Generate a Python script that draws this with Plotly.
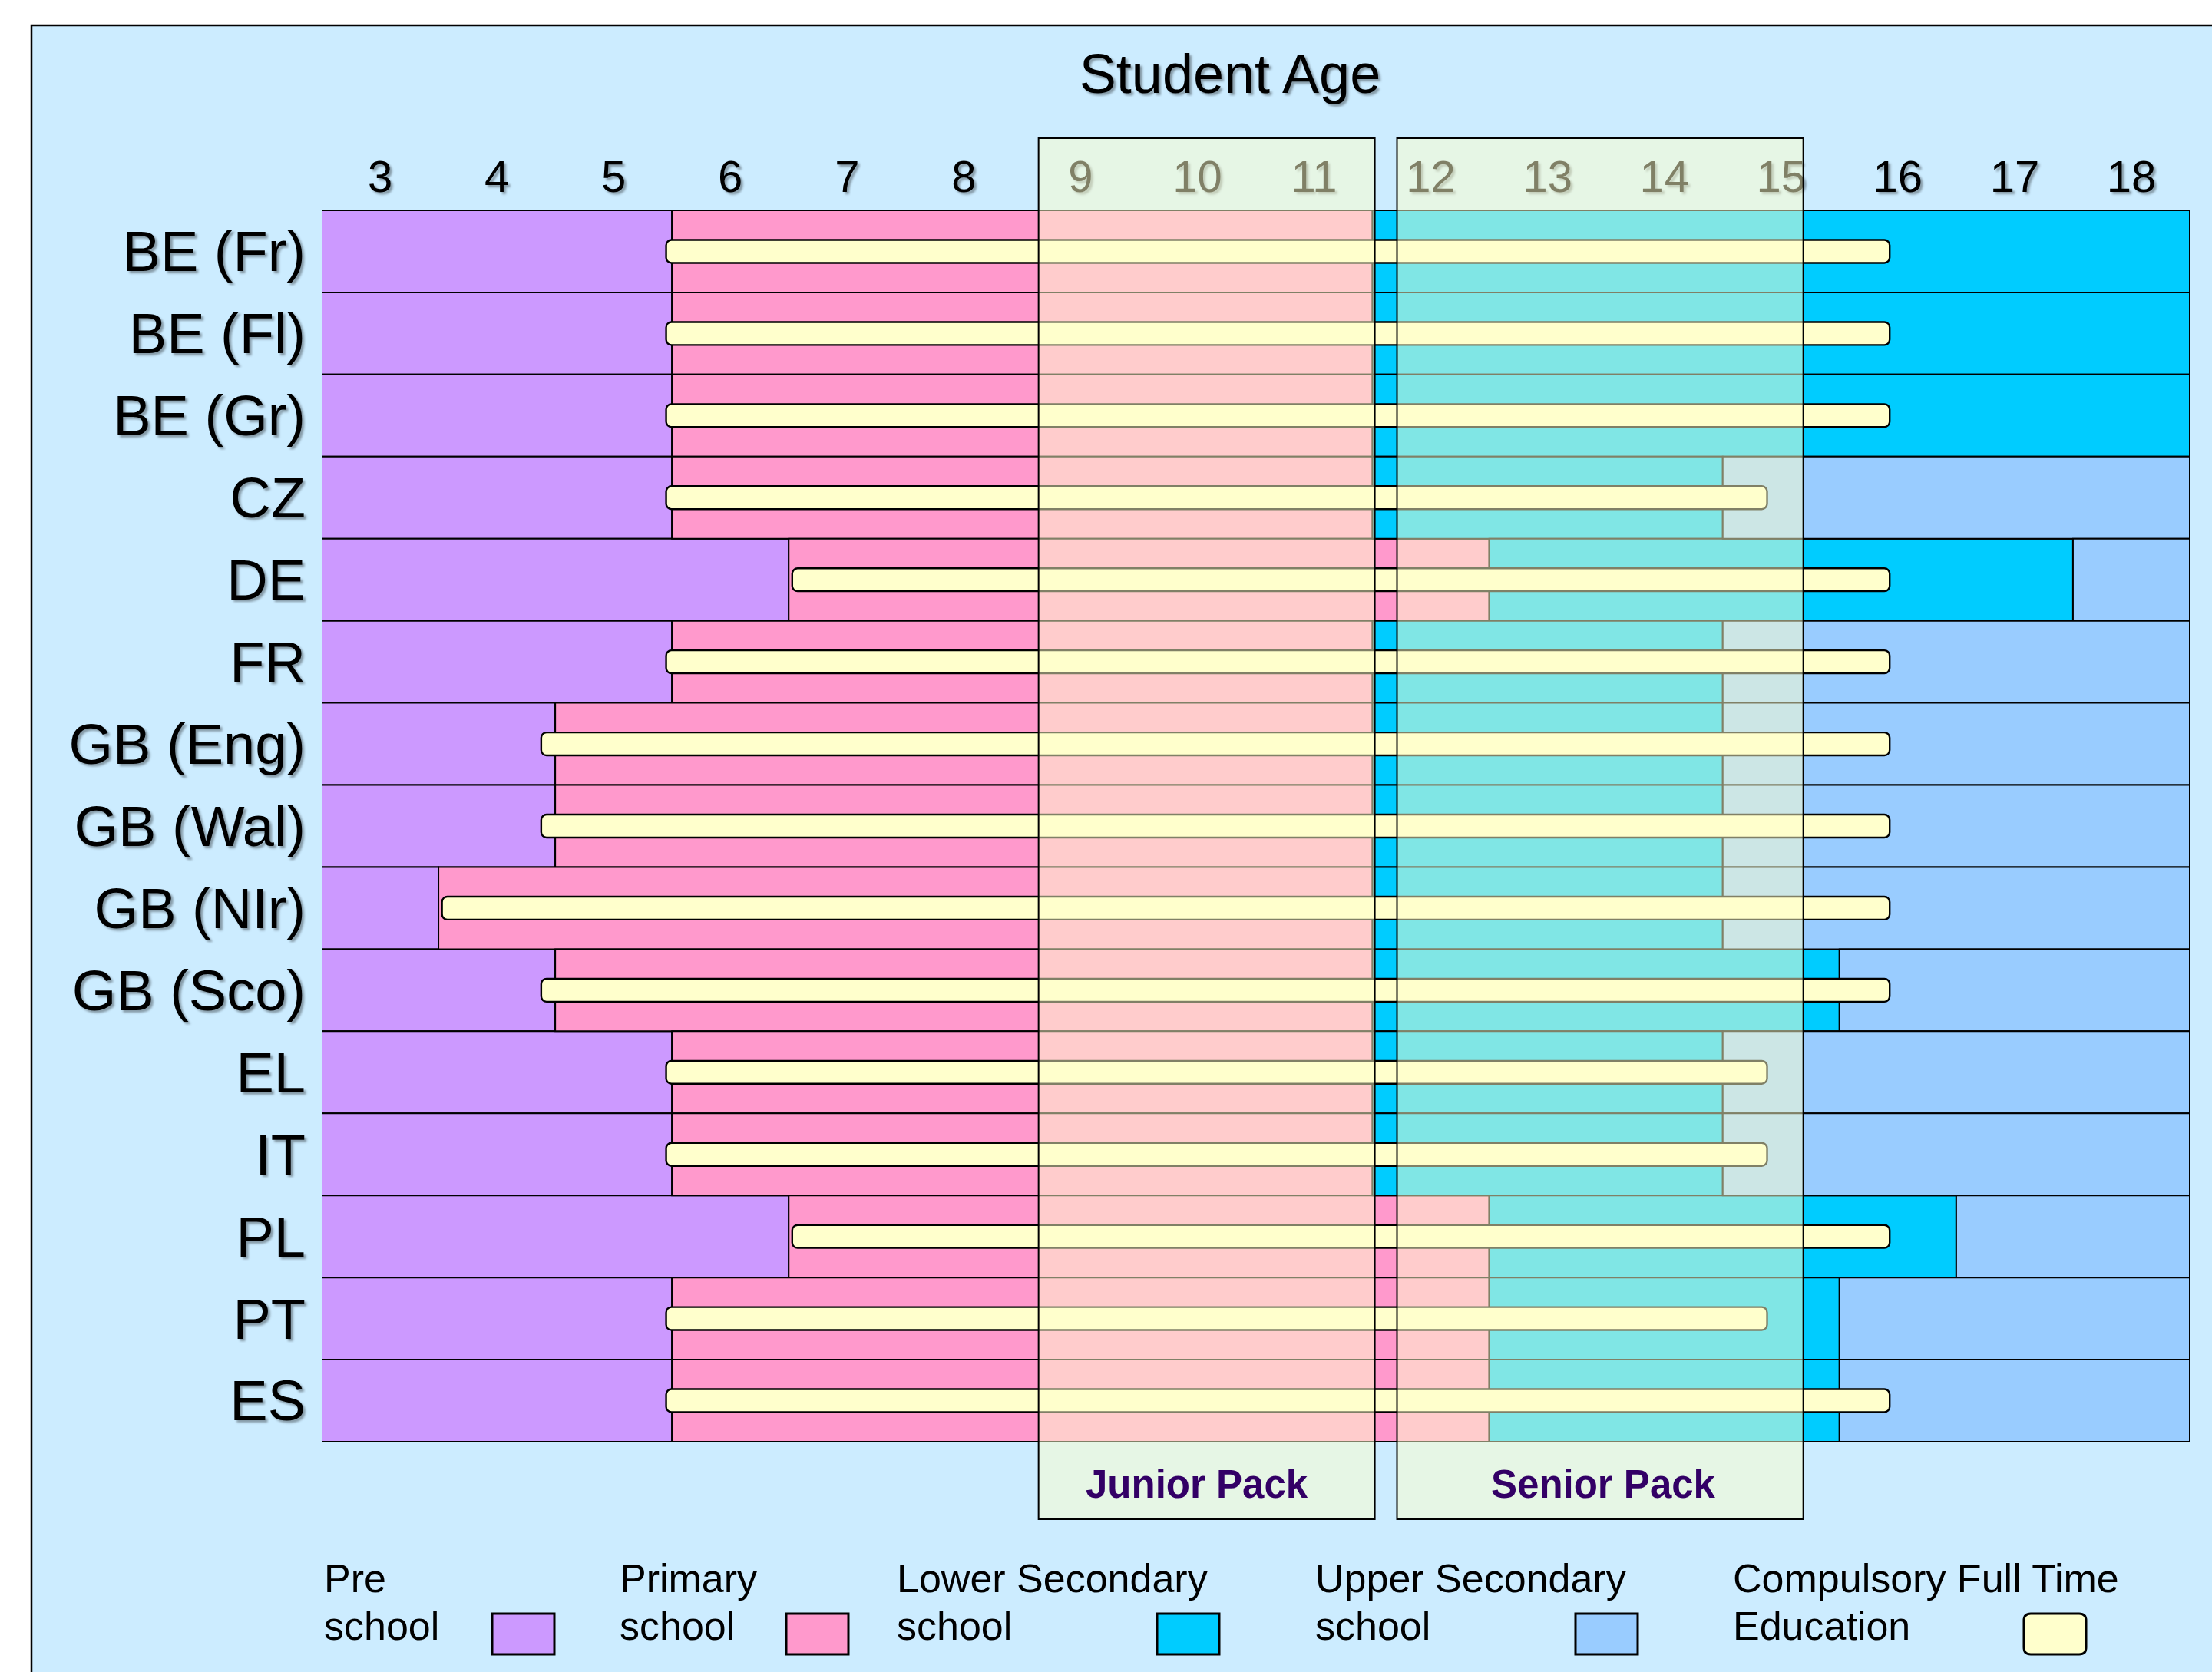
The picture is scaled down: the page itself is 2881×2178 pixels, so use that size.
import plotly.graph_objects as go

# ---------------- data ----------------
countries = ["BE (Fr)", "BE (Fl)", "BE (Gr)", "CZ", "DE", "FR", "GB (Eng)", "GB (Wal)",
             "GB (NIr)", "GB (Sco)", "EL", "IT", "PL", "PT", "ES"]
ages = list(range(3, 19))

# age at which each stage begins (None = stage absent)
primary_start = [6, 6, 6, 6, 7, 6, 5, 5, 4, 5, 6, 6, 7, 6, 6]
lower_sec_start = [12, 12, 12, 12, 13, 12, 12, 12, 12, 12, 12, 12, 13, 13, 13]
upper_sec_start = [None, None, None, 15, 18, 15, 15, 15, 15, 16, 15, 15, 17, 16, 16]

# compulsory full-time education band (on the age scale)
compulsory_from = [5.45, 5.45, 5.45, 5.45, 6.53, 5.45, 4.38, 4.38, 3.53, 4.38,
                   5.45, 5.45, 6.53, 5.45, 5.45]
compulsory_to = [15.93, 15.93, 15.93, 14.88, 15.93, 15.93, 15.93, 15.93, 15.93, 15.93,
                 14.88, 14.88, 15.93, 14.88, 15.93]

junior_pack = (8.64, 11.52)
senior_pack = (11.71, 15.19)
pack_labels = ["Junior Pack", "Senior Pack"]
pack_label_age = [10.0, 13.48]

legend_labels = [("Pre", "school"), ("Primary", "school"), ("Lower Secondary", "school"),
                 ("Upper Secondary", "school"), ("Compulsory Full Time", "Education")]

# ---------------- styles ----------------
FONT = "Liberation Sans, Arial, Helvetica, sans-serif"
C_BG = "#CCECFF"
C_PRE = "#CC99FF"
C_PRI = "#FF99CC"
C_LOW = "#00CCFF"
C_UPP = "#99CCFF"
C_CFT = "#FFFFCC"
colors = [C_PRE, C_PRI, C_LOW, C_UPP, C_CFT]
SHADOW = "3px 3px 3px rgba(0,0,0,0.35)"

lo = ages[0] - 0.5
hi = ages[-1] + 0.5

pre_base = [lo] * len(countries)
pre_len = [p - 0.5 - lo for p in primary_start]
pri_base = [p - 0.5 for p in primary_start]
pri_len = [l - p for p, l in zip(primary_start, lower_sec_start)]
low_base = [l - 0.5 for l in lower_sec_start]
low_len = [((u - 0.5) if u is not None else hi) - (l - 0.5)
           for l, u in zip(lower_sec_start, upper_sec_start)]
upp_base = [(u - 0.5) if u is not None else None for u in upper_sec_start]
upp_len = [(hi - (u - 0.5)) if u is not None else None for u in upper_sec_start]
cft_base = compulsory_from
cft_len = [b - a for a, b in zip(compulsory_from, compulsory_to)]

fig = go.Figure()
for base, length, col in [(pre_base, pre_len, C_PRE), (pri_base, pri_len, C_PRI),
                          (low_base, low_len, C_LOW), (upp_base, upp_len, C_UPP)]:
    fig.add_trace(go.Bar(orientation="h", y=countries, x=length, base=base, width=1,
                         marker=dict(color=col, line=dict(color="black", width=2)),
                         hoverinfo="skip", showlegend=False))
fig.add_trace(go.Bar(orientation="h", y=countries, x=cft_len, base=cft_base, width=0.28,
                     marker=dict(color=C_CFT, line=dict(color="black", width=2.4),
                                 cornerradius=7),
                     hoverinfo="skip", showlegend=False))

# ---------------- geometry helpers (pixels -> paper) ----------------
W, H = 2881, 2178
L, R, T, B = 419, 29, 274, 300
PW, PH = W - L - R, H - T - B


def px(x):
    return (x - L) / PW


def py(y):
    return (H - B - y) / PH


shapes = []
# light-blue frame
shapes.append(dict(type="rect", xref="paper", yref="paper", x0=px(41), x1=px(3100),
                   y0=py(2400), y1=py(33), fillcolor=C_BG,
                   line=dict(color="black", width=2.5), layer="below"))
# pack overlays
for rng in (junior_pack, senior_pack):
    shapes.append(dict(type="rect", xref="x", yref="paper", x0=rng[0], x1=rng[1],
                       y0=py(1979), y1=py(180), fillcolor="rgba(255,255,204,0.5)",
                       line=dict(color="black", width=2), layer="above"))

annotations = []
for xa, lab in zip(pack_label_age, pack_labels):
    annotations.append(dict(x=xa, y=py(1933), xref="x", yref="paper",
                            text=f"<b>{lab}</b>", showarrow=False, xanchor="center",
                            yanchor="middle",
                            font=dict(family=FONT, size=51, color="#330066")))

# legend (two text lines on the left, swatch on the right)
leg_text_x = [420, 805, 1166, 1711, 2255]
leg_sw_x = [641, 1024, 1507, 2052, 2636]
line_mid = [2056, 2118]
sw_w, sw_top, sw_bot = 81, 2102, 2155
for i, (lines, col) in enumerate(zip(legend_labels, colors)):
    for txt, ym in zip(lines, line_mid):
        annotations.append(dict(x=px(leg_text_x[i]), y=py(ym), xref="paper", yref="paper",
                                text=txt, showarrow=False, xanchor="left",
                                yanchor="middle", align="left",
                                font=dict(family=FONT, size=52, color="black")))
    x0, x1 = px(leg_sw_x[i]), px(leg_sw_x[i] + sw_w)
    y0, y1 = py(sw_bot), py(sw_top)
    if i < 4:
        shapes.append(dict(type="rect", xref="paper", yref="paper", x0=x0, x1=x1,
                           y0=y0, y1=y1, fillcolor=col,
                           line=dict(color="black", width=3), layer="above"))
    else:
        rx, ry = 9 / PW, 9 / PH
        path = (f"M {x0+rx},{y0} L {x1-rx},{y0} Q {x1},{y0} {x1},{y0+ry} "
                f"L {x1},{y1-ry} Q {x1},{y1} {x1-rx},{y1} L {x0+rx},{y1} "
                f"Q {x0},{y1} {x0},{y1-ry} L {x0},{y0+ry} Q {x0},{y0} {x0+rx},{y0} Z")
        shapes.append(dict(type="path", xref="paper", yref="paper", path=path,
                           fillcolor=col, line=dict(color="black", width=3),
                           layer="above"))

fig.update_layout(
    width=W, height=H,
    margin=dict(l=L, r=R, t=T, b=B, pad=0),
    paper_bgcolor="white", plot_bgcolor="rgba(0,0,0,0)",
    barmode="overlay", showlegend=False,
    font=dict(family=FONT, color="black"),
    title=dict(text="Student Age", xref="paper", x=px(1602), xanchor="center",
               yref="container", y=1 - 96 / H, yanchor="middle",
               font=dict(family=FONT, size=72, color="black", shadow=SHADOW)),
    xaxis=dict(range=[lo, hi], side="top", tickmode="array", tickvals=ages,
               ticktext=[str(a) for a in ages], showgrid=False, zeroline=False,
               showline=False, ticks="", ticklabelstandoff=11,
               tickfont=dict(family=FONT, size=58, color="black", shadow=SHADOW),
               fixedrange=True),
    yaxis=dict(categoryorder="array", categoryarray=countries, range=[14.5, -0.5],
               showgrid=False, zeroline=False, showline=False, ticks="",
               ticklabelstandoff=20,
               tickfont=dict(family=FONT, size=74, color="black", shadow=SHADOW),
               fixedrange=True),
    shapes=shapes, annotations=annotations,
)

fig.write_html("out.html", config={"displayModeBar": False},
               post_script="document.body.style.margin='0';"
                           "document.body.style.overflow='hidden';")
